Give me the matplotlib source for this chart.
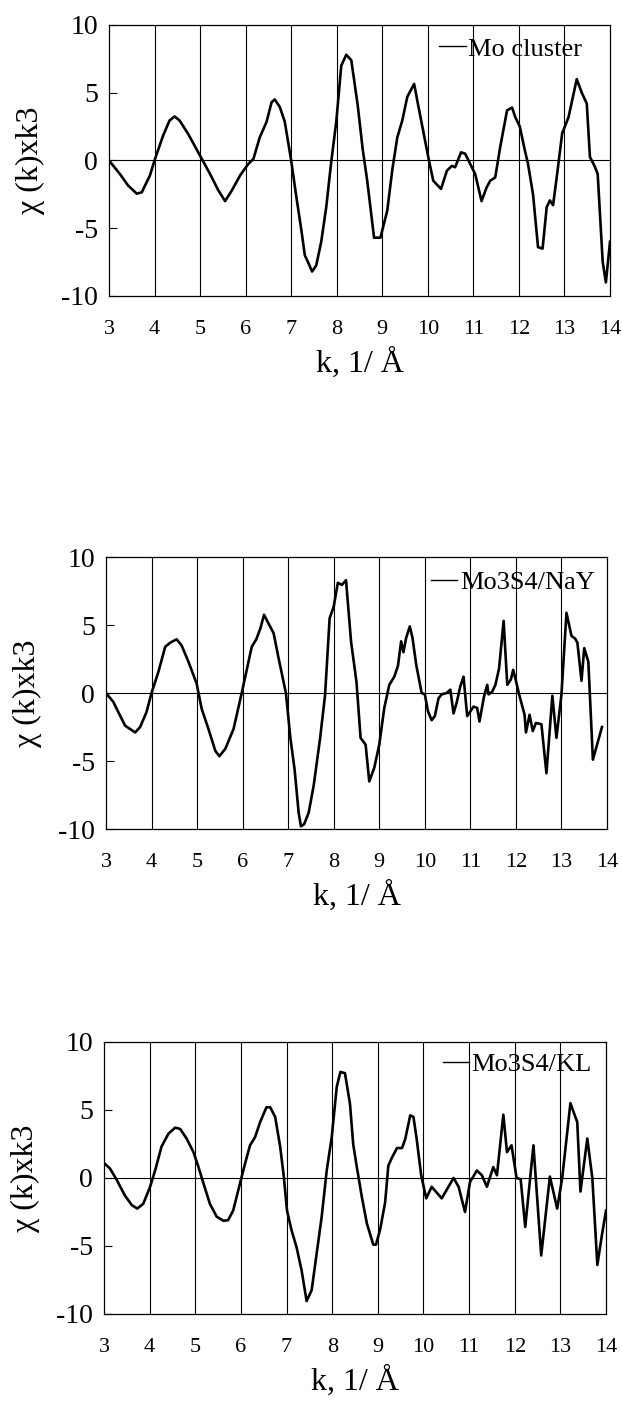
import matplotlib
matplotlib.use("Agg")
import matplotlib.pyplot as plt
from matplotlib.lines import Line2D

plt.rcParams['font.family'] = ['Liberation Serif', 'DejaVu Serif']
plt.rcParams['axes.unicode_minus'] = False

# data
k_mo = [3.0, 3.24, 3.42, 3.61, 3.72, 3.9, 4.0, 4.19, 4.33, 4.44, 4.55, 4.74, 5.0, 5.22, 5.4, 5.55,
        5.7, 5.88, 6.06, 6.17, 6.31, 6.46, 6.57, 6.64, 6.75, 6.86, 7.0, 7.11, 7.22, 7.3, 7.37, 7.46,
        7.55, 7.66, 7.77, 7.88, 7.99, 8.1, 8.21, 8.32, 8.46, 8.57, 8.67, 8.82, 8.96, 9.11, 9.22,
        9.33, 9.44, 9.55, 9.7, 9.77, 9.88, 10.01, 10.12, 10.29, 10.42, 10.53, 10.6, 10.73, 10.82,
        10.93, 11.04, 11.11, 11.18, 11.29, 11.37, 11.48, 11.59, 11.74, 11.85, 11.92, 12.02, 12.13,
        12.2, 12.31, 12.42, 12.52, 12.61, 12.68, 12.75, 12.83, 12.95, 13.09, 13.27, 13.38, 13.49,
        13.56, 13.66, 13.73, 13.84, 13.91, 14.0]
chi_mo = [0, -1.0, -1.85, -2.45, -2.35, -1.1, 0, 1.85, 2.95, 3.25, 2.95, 1.95, 0.35, -1.0, -2.2, -3.0,
          -2.2, -1.1, -0.25, 0.1, 1.7, 2.85, 4.3, 4.5, 3.95, 2.85, 0, -2.6, -5.05, -7.0, -7.5, -8.2,
          -7.75, -6.0, -3.45, -0.1, 2.85, 7.0, 7.8, 7.4, 4.1, 0.85, -1.5, -5.7, -5.7, -3.7, -0.7,
          1.7, 2.95, 4.7, 5.65, 4.4, 2.5, 0.25, -1.5, -2.1, -0.75, -0.4, -0.5, 0.6, 0.5,
          -0.25, -1.0, -2.0, -3.0, -2.0, -1.5, -1.25, 1.0, 3.7, 3.9, 3.2, 2.5, 0.75,
          -0.25, -2.5, -6.4, -6.5, -3.45, -2.95, -3.3, -1.25, 2.0, 3.2, 6.0, 5.0, 4.2,
          0.25, -0.4, -1.0, -7.5, -9.0, -6.0]

k_nay = [3.0, 3.16, 3.27, 3.42, 3.53, 3.64, 3.75, 3.89, 4.0, 4.15, 4.3, 4.41, 4.55, 4.66, 4.81, 4.99,
         5.1, 5.25, 5.4, 5.49, 5.62, 5.8, 5.98, 6.09, 6.2, 6.3, 6.39, 6.47, 6.57, 6.68, 6.79, 6.95,
         7.05, 7.14, 7.23, 7.28, 7.35, 7.45, 7.56, 7.7, 7.81, 7.91, 8.0, 8.09, 8.18, 8.27, 8.38,
         8.5, 8.59, 8.7, 8.78, 8.89, 9.0, 9.11, 9.22, 9.33, 9.41, 9.48, 9.53, 9.59, 9.67, 9.73,
         9.81, 9.93, 10.0, 10.07, 10.15, 10.22, 10.3, 10.37, 10.48, 10.56, 10.63, 10.7, 10.78,
         10.85, 10.93, 11.0, 11.07, 11.15, 11.2, 11.3, 11.37, 11.4, 11.48, 11.55, 11.63, 11.73,
         11.81, 11.89, 11.94, 12.0, 12.07, 12.19, 12.22, 12.3, 12.37, 12.44, 12.56, 12.67, 12.8,
         12.89, 13.0, 13.11, 13.22, 13.3, 13.35, 13.44, 13.5, 13.59, 13.69, 13.89]
chi_nay = [0, -0.65, -1.4, -2.4, -2.65, -2.9, -2.5, -1.4, 0, 1.55, 3.4, 3.7, 3.95, 3.5, 2.3, 0.7,
           -1.15, -2.65, -4.25, -4.65, -4.1, -2.65, 0, 1.7, 3.4, 3.95, 4.75, 5.75, 5.1, 4.4, 2.55, 0,
           -3.35, -5.6, -8.8, -9.8, -9.65, -8.8, -6.8, -3.35, -0.15, 5.5, 6.35, 8.1, 7.95, 8.3, 3.8,
           0.8, -3.3, -3.8, -6.5, -5.5, -3.8, -1.1, 0.6, 1.2, 2.0, 3.8, 3.0, 4.05, 4.9, 4.05,
           2.1, 0, -0.1, -1.35, -2.0, -1.7, -0.4, -0.1, 0, 0.25, -1.5, -0.7, 0.5,
           1.2, -1.7, -1.35, -1.0, -1.1, -2.1, -0.25, 0.6, -0.1, 0.1, 0.6, 1.8, 5.3,
           0.6, 1.0, 1.7, 0.9, -0.1, -1.6, -2.9, -1.6, -2.8, -2.2, -2.3, -5.9, -0.2,
           -3.3, -0.1, 5.9, 4.2, 4.0, 3.7, 0.9, 3.3, 2.3, -4.9, -2.5]

k_kl = [3.0, 3.13, 3.28, 3.46, 3.61, 3.73, 3.86, 4.01, 4.12, 4.26, 4.41, 4.56, 4.67, 4.81, 4.96, 5.07,
        5.18, 5.32, 5.47, 5.62, 5.72, 5.83, 5.98, 6.09, 6.2, 6.31, 6.42, 6.56, 6.64, 6.75, 6.86, 6.94,
        7.01, 7.11, 7.22, 7.33, 7.44, 7.55, 7.66, 7.77, 7.88, 7.99, 8.1, 8.18, 8.28, 8.39, 8.46,
        8.53, 8.65, 8.76, 8.9, 8.96, 9.05, 9.16, 9.23, 9.31, 9.42, 9.53, 9.6, 9.71, 9.78, 9.85,
        9.95, 10.06, 10.18, 10.4, 10.66, 10.77, 10.91, 11.02, 11.17, 11.28, 11.39, 11.53, 11.61,
        11.75, 11.83, 11.93, 12.04, 12.13, 12.23, 12.41, 12.58, 12.77, 12.93, 13.04, 13.22, 13.37,
        13.44, 13.59, 13.7, 13.81, 13.91, 14.0]
chi_kl = [1.1, 0.7, -0.15, -1.3, -2.0, -2.25, -1.9, -0.65, 0.55, 2.3, 3.25, 3.7, 3.6, 2.9, 1.9, 0.8,
          -0.4, -1.9, -2.85, -3.15, -3.1, -2.4, -0.4, 1.05, 2.4, 3.0, 4.1, 5.2, 5.2, 4.5, 2.3, 0.1,
          -2.4, -3.85, -5.1, -6.8, -9.05, -8.25, -5.55, -2.85, 0.55, 3.0, 6.7, 7.8, 7.7, 5.45, 2.5,
          1.0, -1.4, -3.35, -4.9, -4.9, -3.8, -1.8, 0.9, 1.5, 2.2, 2.2, 2.85, 4.6, 4.5, 2.9,
          0.2, -1.5, -0.65, -1.5, 0, -0.65, -2.5, -0.3, 0.55, 0.2, -0.65, 0.8, 0.2,
          4.65, 1.9, 2.4, 0, -0.1, -3.6, 2.4, -5.7, 0.1, -2.25, 0, 5.5, 4.1,
          -1.0, 2.9, 0, -6.4, -4.2, -2.4]

labels = ['Mo cluster', 'Mo3S4/NaY', 'Mo3S4/KL']
x_ticks = list(range(3, 15))
y_ticks = [-10, -5, 0, 5, 10]
y_ticklabels = ['-10', '-5', '0', '5', '10']

fig = plt.figure(figsize=(6.22, 14.02), dpi=100)
boxes = [[0.1752, 0.7889, 0.8055, 0.1933],
         [0.1704, 0.4087, 0.8055, 0.1940],
         [0.1672, 0.0628, 0.8071, 0.1940]]
leg_anchor = [(0.945, 0.955), (0.975, 0.95), (0.972, 0.96)]

series = [(k_mo, chi_mo), (k_nay, chi_nay), (k_kl, chi_kl)]

for i, (k, chi) in enumerate(series):
    ax = fig.add_axes(boxes[i])
    ax.plot(k, chi, color='black', lw=1.9)
    ax.axhline(0, color='black', lw=0.8)
    for xv in x_ticks[1:-1]:
        ax.axvline(xv, color='black', lw=0.8)
    ax.set_xlim(3, 14)
    ax.set_ylim(-10, 10)
    ax.set_xticks(x_ticks)
    ax.set_xticklabels([str(v) for v in x_ticks], fontsize=16)
    ax.set_yticks(y_ticks)
    ax.set_yticklabels(y_ticklabels, fontsize=20)
    ax.tick_params(axis='x', length=0, pad=17)
    ax.tick_params(axis='y', direction='in', length=6, width=0.8, pad=8)
    for s in ax.spines.values():
        s.set_linewidth(0.9)
    ax.set_ylabel('χ (k)xk3', fontsize=23)
    ax.yaxis.set_label_coords(-0.128, 0.5)
    ax.set_xlabel('k, 1/ Å', fontsize=23)
    ax.xaxis.set_label_coords(0.5, -0.19)
    h = Line2D([], [], color='black', lw=1.0)
    ax.legend([h], [labels[i]], loc='upper right', bbox_to_anchor=leg_anchor[i],
              frameon=False, fontsize=19, handlelength=1.0, handletextpad=0.1,
              borderaxespad=0, borderpad=0)

fig.savefig('out.png', dpi=100)
